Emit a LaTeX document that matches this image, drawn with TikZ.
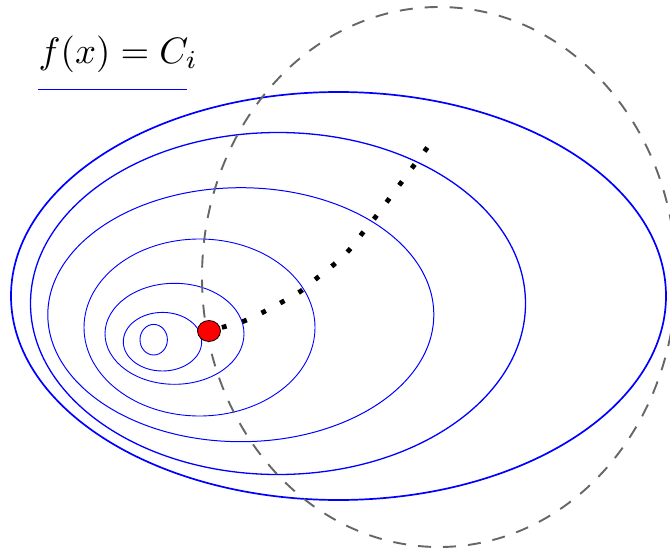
\documentclass[tikz,border=0pt]{standalone}
\usetikzlibrary{shapes.geometric}
\begin{document}
\begin{tikzpicture}[x=1pt,y=-1pt,
  contour/.style={blue,line width=#1},
  contour/.default=0.9pt,
  guide/.style={draw=black!60,line width=1.9pt,dash pattern=on 13pt off 12pt},
  pathdots/.style={black,line width=4.8pt,dash pattern=on 4.8pt off 16.35pt},
  reddot/.style={draw=black,fill=red,ellipse,minimum width=23pt,minimum height=21pt,inner sep=0pt,line width=0.8pt},
  legendline/.style={fill=blue,draw=none}]
\useasboundingbox (0,0) rectangle (670,554);
\clip (0,0) rectangle (670,554);
% contour ellipses
\draw[contour=1.7pt] (338.5,296) ellipse [x radius=327.5pt, y radius=204pt];
\draw[contour=1.3pt] (278,303.5) ellipse [x radius=247.5pt, y radius=171pt];
\draw[contour=1.0pt] (240.8,314.7) ellipse [x radius=193pt, y radius=127pt];
\draw[contour] (199.5,327.5) ellipse [x radius=115.5pt, y radius=88.5pt];
\draw[contour] (174.5,333.8) ellipse [x radius=69.5pt, y radius=50.5pt];
\draw[contour] (162.5,341.7) ellipse [x radius=39.2pt, y radius=29.3pt];
\draw[contour] (153.7,339.7) ellipse [x radius=13.7pt, y radius=15.3pt];
% dashed ellipse
\draw[guide] (439,277) ellipse [x radius=237pt, y radius=270pt];
% dotted path
\draw[pathdots] plot[smooth,tension=0.6] coordinates {(221.9,327.4) (245,320.7) (264,311.7) (282.7,301.7) (301,291) (317,278) (333.7,264.7) (349,250.3) (362,233.7) (375.3,217.3) (388,200.3) (400.7,183.3) (413.3,166.3) (427.4,147.5)};
% red point
\node[reddot] (dot) at (209,331) {};
% legend
\node[anchor=base west,scale=3.68,inner sep=0pt] (lbl) at (38,63) {$f(x)=C_i$};
\coordinate (la) at (38,88.7);
\coordinate (lb) at (187,90.3);
\path[legendline] (la) rectangle (lb);
\end{tikzpicture}
\end{document}
